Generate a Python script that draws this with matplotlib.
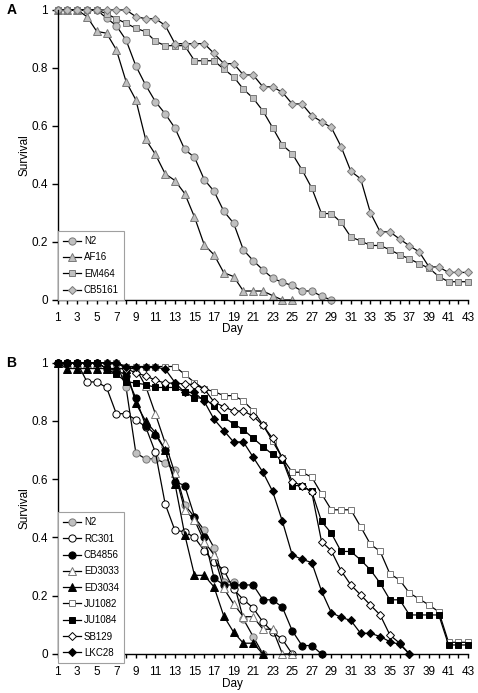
import matplotlib
matplotlib.use('Agg')
import matplotlib.pyplot as plt

plt.rcParams['font.family'] = ['Liberation Sans', 'DejaVu Sans']

# Panel A - survival per day (day 1 onward)
n2_a = [1, 1, 1, 1, 1, 0.972, 0.946, 0.896, 0.807, 0.741, 0.684, 0.642, 0.593, 0.519, 0.492,
        0.415, 0.375, 0.306, 0.265, 0.173, 0.136, 0.104, 0.075, 0.061, 0.05, 0.031, 0.031, 0.013, 0]
af16_a = [1, 1, 1, 0.977, 0.926, 0.92, 0.863, 0.753, 0.69, 0.554, 0.502, 0.435, 0.412, 0.367,
          0.286, 0.19, 0.156, 0.094, 0.081, 0.031, 0.031, 0.031, 0.015, 0, 0]
em464_a = [1, 1, 1, 1, 1, 0.987, 0.97, 0.954, 0.937, 0.925, 0.892, 0.877, 0.877, 0.877, 0.825,
           0.825, 0.825, 0.796, 0.77, 0.727, 0.696, 0.652, 0.594, 0.534, 0.505, 0.449, 0.386,
           0.298, 0.298, 0.268, 0.217, 0.204, 0.188, 0.188, 0.173, 0.156, 0.142, 0.125, 0.11,
           0.081, 0.063, 0.063, 0.063]
cb5161_a = [1, 1, 1, 1, 1, 1, 1, 1, 0.977, 0.97, 0.97, 0.947, 0.884, 0.884, 0.884, 0.884, 0.85,
            0.815, 0.815, 0.776, 0.776, 0.735, 0.735, 0.716, 0.676, 0.676, 0.636, 0.615, 0.595,
            0.529, 0.444, 0.418, 0.301, 0.235, 0.235, 0.21, 0.187, 0.166, 0.114, 0.114, 0.095,
            0.095, 0.095]

# Panel B
n2_b = [1, 1, 1, 1, 1, 1, 1, 0.915, 0.69, 0.67, 0.67, 0.655, 0.632, 0.512, 0.47, 0.425, 0.365,
        0.248, 0.248, 0.12, 0.06, 0]
rc301 = [1, 1, 1, 0.934, 0.934, 0.915, 0.825, 0.825, 0.804, 0.78, 0.692, 0.515, 0.424, 0.42,
         0.40, 0.355, 0.315, 0.289, 0.222, 0.187, 0.158, 0.11, 0.075, 0.05, 0]
cb4856 = [1, 1, 1, 1, 1, 0.98, 0.976, 0.956, 0.879, 0.784, 0.753, 0.70, 0.592, 0.578, 0.472,
          0.403, 0.26, 0.237, 0.237, 0.237, 0.237, 0.186, 0.186, 0.16, 0.08, 0.029, 0.029, 0]
ed3033 = [1, 1, 1, 1, 1, 0.98, 0.98, 0.98, 0.98, 0.92, 0.824, 0.724, 0.62, 0.495, 0.46, 0.386,
          0.34, 0.225, 0.172, 0.128, 0.128, 0.085, 0.085, 0, 0]
ed3034 = [1, 0.98, 0.98, 0.98, 0.98, 0.98, 0.98, 0.98, 0.86, 0.80, 0.76, 0.70, 0.585, 0.41,
          0.27, 0.27, 0.23, 0.13, 0.075, 0.037, 0.037, 0]
ju1082 = [1, 1, 1, 1, 1, 1, 1, 0.987, 0.987, 0.987, 0.987, 0.987, 0.987, 0.96, 0.932, 0.91,
          0.901, 0.887, 0.887, 0.869, 0.835, 0.787, 0.73, 0.672, 0.624, 0.624, 0.607, 0.55,
          0.495, 0.495, 0.495, 0.437, 0.377, 0.352, 0.275, 0.254, 0.209, 0.189, 0.168, 0.145,
          0.04, 0.04, 0.04]
ju1084 = [1, 1, 1, 1, 1, 0.98, 0.96, 0.935, 0.93, 0.925, 0.915, 0.915, 0.915, 0.90, 0.879,
          0.879, 0.85, 0.813, 0.79, 0.77, 0.741, 0.712, 0.685, 0.667, 0.578, 0.578, 0.558,
          0.455, 0.415, 0.352, 0.352, 0.323, 0.289, 0.243, 0.186, 0.186, 0.134, 0.134, 0.134,
          0.134, 0.031, 0.031, 0.031]
sb129 = [1, 1, 1, 1, 1, 1, 1, 0.98, 0.965, 0.955, 0.94, 0.93, 0.93, 0.927, 0.925, 0.91, 0.865,
         0.849, 0.834, 0.834, 0.817, 0.785, 0.74, 0.672, 0.592, 0.578, 0.555, 0.386, 0.354,
         0.286, 0.237, 0.203, 0.168, 0.134, 0.065, 0.037, 0]
lkc28 = [1, 1, 1, 1, 1, 1, 1, 0.985, 0.985, 0.985, 0.985, 0.978, 0.932, 0.898, 0.898, 0.867,
         0.806, 0.767, 0.728, 0.728, 0.676, 0.624, 0.558, 0.455, 0.34, 0.325, 0.314, 0.216,
         0.142, 0.126, 0.115, 0.071, 0.071, 0.06, 0.042, 0.033, 0]

GRAY = '#c0c0c0'
EDGE = '#787878'

series_a = [
    ('N2', n2_a, 'o', GRAY, EDGE, 5.2),
    ('AF16', af16_a, '^', GRAY, EDGE, 5.4),
    ('EM464', em464_a, 's', GRAY, EDGE, 5.0),
    ('CB5161', cb5161_a, 'D', GRAY, EDGE, 3.6),
]
series_b = [
    ('N2', n2_b, 'o', GRAY, EDGE, 5.2),
    ('RC301', rc301, 'o', 'white', 'black', 5.2),
    ('CB4856', cb4856, 'o', 'black', 'black', 5.2),
    ('ED3033', ed3033, '^', 'white', EDGE, 5.4),
    ('ED3034', ed3034, '^', 'black', 'black', 5.4),
    ('JU1082', ju1082, 's', 'white', EDGE, 5.0),
    ('JU1084', ju1084, 's', 'black', 'black', 5.0),
    ('SB129', sb129, 'D', 'white', 'black', 3.6),
    ('LKC28', lkc28, 'D', 'black', 'black', 3.6),
]


def draw_panel(ax, series, letter, leg_y):
    for name, vals, mk, fc, ec, ms in series:
        days = list(range(1, len(vals) + 1))
        ax.plot(days, vals, color='black', lw=0.9, marker=mk, markersize=ms,
                markerfacecolor=fc, markeredgecolor=ec, markeredgewidth=0.7,
                label=name, clip_on=False)
    ax.set_xlim(1, 43)
    ax.set_ylim(0, 1)
    ax.spines['top'].set_visible(False)
    ax.spines['right'].set_visible(False)
    for s in ['left', 'bottom']:
        ax.spines[s].set_linewidth(1.0)
    ax.set_xticks(range(1, 44, 2))
    ax.set_xticks(range(2, 44, 2), minor=True)
    ax.set_yticks([0, 0.2, 0.4, 0.6, 0.8, 1])
    ax.set_yticklabels(['0', '0.2', '0.4', '0.6', '0.8', '1'])
    ax.tick_params(axis='x', which='both', direction='out', length=3, width=1.0,
                   labelsize=8.5, pad=6)
    ax.tick_params(axis='y', direction='out', length=4, width=1.0, labelsize=8.5, pad=3)
    ax.set_xlabel('Day', fontsize=8.5)
    ax.xaxis.set_label_coords(0.425, -0.081)
    ax.set_ylabel('Survival', fontsize=8.5, labelpad=1)
    leg = ax.legend(loc='lower left', bbox_to_anchor=(0, leg_y), borderaxespad=0,
                    fontsize=7, fancybox=False, framealpha=1, edgecolor='#a0a0a0',
                    handlelength=1.9, handletextpad=0.3, labelspacing=0.65,
                    borderpad=0.5)
    leg.get_frame().set_linewidth(0.8)
    ax.text(-0.125, 1.0, letter, transform=ax.transAxes, fontsize=10,
            fontweight='bold', va='center', ha='left')


fig = plt.figure(figsize=(4.78, 6.93), dpi=100)
axA = fig.add_axes([0.1207, 0.5671, 0.8586, 0.4185])
axB = fig.add_axes([0.1207, 0.0563, 0.8586, 0.4203])
draw_panel(axA, series_a, 'A', 0)
draw_panel(axB, series_b, 'B', -0.03)

fig.savefig('out.png', dpi=100)
